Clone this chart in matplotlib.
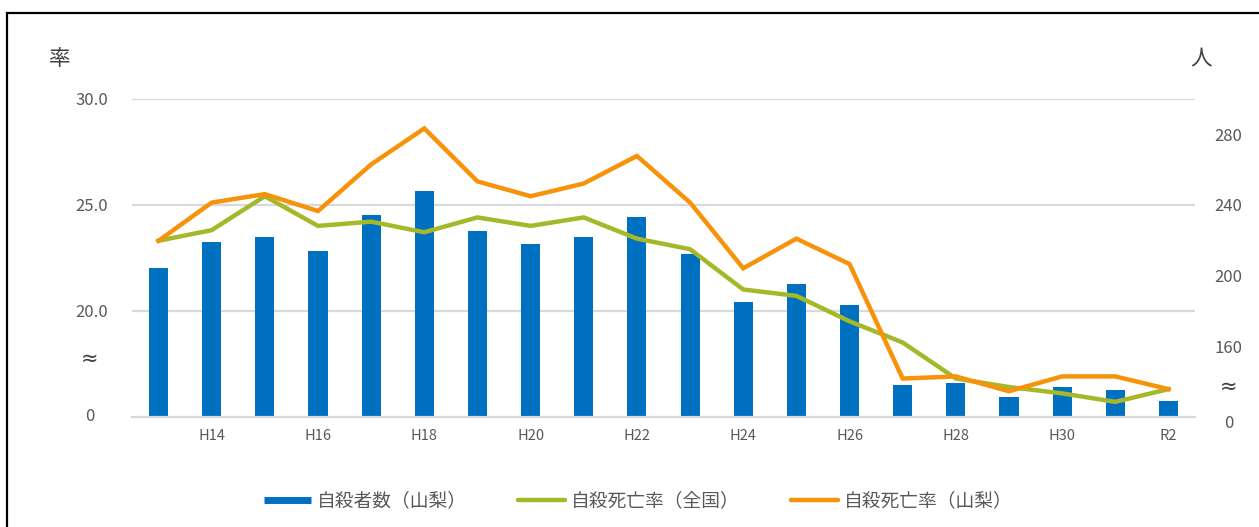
import matplotlib
matplotlib.use("Agg")
import matplotlib.pyplot as plt
from matplotlib.lines import Line2D
from matplotlib.patches import Rectangle
from matplotlib.transforms import blended_transform_factory

plt.rcParams['font.family'] = ['Noto Sans CJK JP', 'DejaVu Sans']

# 年次（H13〜R2）
nendo = ['H13', 'H14', 'H15', 'H16', 'H17', 'H18', 'H19', 'H20', 'H21', 'H22',
         'H23', 'H24', 'H25', 'H26', 'H27', 'H28', 'H29', 'H30', 'R1', 'R2']
# 自殺者数（山梨）　右軸の目盛で読んだ値
jisatsusha_yamanashi = [204, 219, 222, 214, 234, 248, 225, 218, 222, 233,
                        212, 185, 195, 183, 138, 139, 131, 137, 135, 129]
# 自殺死亡率（全国）
ritsu_zenkoku = [23.3, 23.8, 25.4, 24.0, 24.2, 23.7, 24.4, 24.0, 24.4, 23.4,
                 22.9, 21.0, 20.7, 19.5, 18.5, 16.8, 16.4, 16.1, 15.7, 16.3]
# 自殺死亡率（山梨）
ritsu_yamanashi = [23.3, 25.1, 25.5, 24.7, 26.9, 28.6, 26.1, 25.4, 26.0, 27.3,
                   25.1, 22.0, 23.4, 22.2, 16.8, 16.9, 16.2, 16.9, 16.9, 16.3]

# 目盛
left_ticks = [20, 25, 30]
left_labels = ['20.0', '25.0', '30.0']
right_ticks = [160, 200, 240, 280]
right_labels = ['160', '200', '240', '280']

azul = '#0070c0'
verde = '#a5b82a'
naranja = '#f7930a'
gris = '#595959'
rejilla = '#d9d9d9'

fig = plt.figure(figsize=(12.59, 5.27), dpi=100)

# 棒グラフ用の軸（目盛は右側）
ax_bar = fig.add_axes([0.1048, 0.2093, 0.8444, 0.6034])
# 折れ線用の軸（目盛は左側）
ax_line = ax_bar.twinx()
ax_line.yaxis.tick_left()
ax_bar.yaxis.tick_right()

x = list(range(len(nendo)))

ax_bar.set_xlim(-0.5, len(nendo) - 0.5)
ax_bar.set_ylim(120, 300)
ax_line.set_ylim(15, 30)

# グリッド線（棒の後ろ）
tr = blended_transform_factory(ax_bar.transAxes, ax_line.transData)
for t in left_ticks:
    ax_bar.plot([0, 1], [t, t], color=rejilla, lw=1.6, transform=tr, zorder=0)

ax_bar.bar(x, jisatsusha_yamanashi, width=0.36, color=azul, zorder=2)

ax_line.plot(x, ritsu_zenkoku, color=verde, lw=3.2, solid_joinstyle='miter', zorder=3)
ax_line.plot(x, ritsu_yamanashi, color=naranja, lw=3.2, solid_joinstyle='miter', zorder=4)

# 軸の体裁
for a in (ax_bar, ax_line):
    for s in ('top', 'left', 'right'):
        a.spines[s].set_visible(False)
ax_line.spines['bottom'].set_visible(False)
ax_bar.spines['bottom'].set_color(rejilla)
ax_bar.spines['bottom'].set_linewidth(1.6)

ax_bar.set_xticks(x)
ax_bar.set_xticklabels([n if i % 2 == 1 else '' for i, n in enumerate(nendo)])
ax_bar.tick_params(axis='x', length=0, pad=9, labelsize=10.5, labelcolor=gris)

ax_bar.set_yticks(right_ticks)
ax_bar.set_yticklabels(right_labels)
ax_bar.tick_params(axis='y', length=0, pad=14, labelsize=12, labelcolor=gris)

ax_line.set_yticks(left_ticks)
ax_line.set_yticklabels(left_labels)
ax_line.tick_params(axis='y', length=0, pad=17, labelsize=12, labelcolor=gris)

# 省略記号と 0
trl = blended_transform_factory(ax_line.transAxes, ax_line.transData)
ax_line.text(-0.040, 17.75, '≈', transform=trl, ha='center', va='center',
             fontsize=15, color='#404040', family=['DejaVu Sans'])
ax_line.text(-0.040, 15.0, '0', transform=trl, ha='center', va='center',
             fontsize=12, color=gris)
trr = blended_transform_factory(ax_bar.transAxes, ax_bar.transData)
ax_bar.text(1.0315, 137, '≈', transform=trr, ha='center', va='center',
            fontsize=15, color='#404040', family=['DejaVu Sans'])
ax_bar.text(1.0315, 116, '0', transform=trr, ha='center', va='center',
            fontsize=12, color=gris)

# 軸の単位
fig.text(60 / 1259, 1 - 59 / 527, '率', ha='center', va='center',
         fontsize=15.5, color='#404040')
fig.text(1201 / 1259, 1 - 58 / 527, '人', ha='center', va='center',
         fontsize=15.5, color='#404040')

# 凡例
handles = [
    Line2D([0], [0], color=azul, lw=5, solid_capstyle='butt'),
    Line2D([0], [0], color=verde, lw=3.2, solid_capstyle='round'),
    Line2D([0], [0], color=naranja, lw=3.2, solid_capstyle='round'),
]
labels = ['自殺者数（山梨）', '自殺死亡率（全国）', '自殺死亡率（山梨）']
leg = fig.legend(handles, labels, loc='center', bbox_to_anchor=(0.507, 0.049),
                 ncol=3, frameon=False, fontsize=13.5, handlelength=2.5,
                 handletextpad=0.35, columnspacing=2.7)
for t in leg.get_texts():
    t.set_color(gris)

# 外枠
fig.patches.append(Rectangle((7 / 1259, -0.1), 1.2, 1 - 13 / 527 + 0.1,
                             transform=fig.transFigure, fill=False,
                             edgecolor='black', lw=1.6, zorder=10))

fig.savefig('out.png', dpi=100)
